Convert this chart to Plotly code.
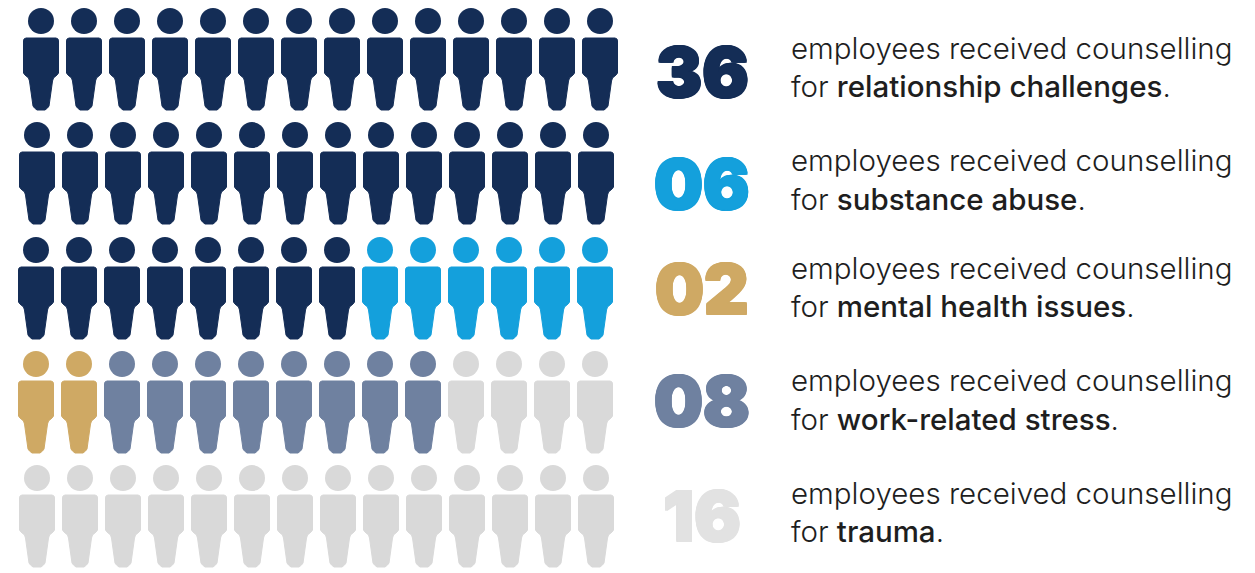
import plotly.graph_objects as go

# Employees per counselling topic
topics = ["relationship challenges", "substance abuse", "mental health issues",
          "work-related stress", "trauma"]
counts = [36, 6, 2, 8, 16]
count_labels = ["36", "06", "02", "08", "16"]
colors = ["#142D56", "#14A0DC", "#CFA964", "#6F81A0", "#D9D9D9"]
number_colors = ["#142D56", "#14A0DC", "#CFA964", "#6F81A0", "#E2E2E2"]
spare_color = "#D9D9D9"   # grid cells beyond the counted employees

# Pictogram grid
columns = 14
row_left = [41, 37, 36, 36, 37]
row_top = [21, 135, 250, 364, 478]
col_step = 43.0

# Text block rows
first_line_y = [48, 160, 268, 380, 493]
second_line_y = [86, 199, 306, 419, 531]
number_y = [72, 184, 289, 401, 516]
number_x = 702
text_x = 789

# Body silhouette, relative to the centre of the head
body_x = [-15, 15, 17, 17.5, 17.5, 16, 12.5, 11.5, 8, 6.5, 4, -4, -6.5, -8, -11.5, -12.5, -16, -17.5, -17.5, -17, -15]
body_y = [17, 17, 18, 20, 52, 54, 57, 60, 85, 87, 89, 89, 87, 85, 60, 57, 54, 52, 20, 18, 17]

# Assign each grid cell to a topic, in reading order
cell_colors = [c for c, n in zip(colors, counts) for _ in range(n)]
n_rows = len(row_left)
cell_colors += [spare_color] * (columns * n_rows - len(cell_colors))

groups = {}
for i, color in enumerate(cell_colors):
    row, col = divmod(i, columns)
    cx = row_left[row] + col * col_step
    cy = row_top[row]
    g = groups.setdefault(color, {"hx": [], "hy": [], "bx": [], "by": []})
    g["hx"].append(cx)
    g["hy"].append(cy)
    g["bx"] += [cx + dx for dx in body_x] + [None]
    g["by"] += [cy + dy for dy in body_y] + [None]

fig = go.Figure()
for color, g in groups.items():
    fig.add_trace(go.Scatter(x=g["bx"], y=g["by"], mode="lines", fill="toself",
                             fillcolor=color, line=dict(color=color, width=1),
                             hoverinfo="skip", showlegend=False))
    fig.add_trace(go.Scatter(x=g["hx"], y=g["hy"], mode="markers",
                             marker=dict(color=color, size=26, line=dict(width=0)),
                             hoverinfo="skip", showlegend=False))


def heavy_shadow(color, r=1.0):
    """Same-colour text shadow that thickens the numerals."""
    offsets = [(r, 0), (-r, 0), (0, r), (0, -r), (r, r), (-r, r), (r, -r), (-r, -r)]
    return ", ".join(f"{x}px {y}px 0 {color}" for x, y in offsets)


TEXT_FONT = dict(family="Inter, sans-serif", size=29.5, weight=300, color="#1E1E1E")
annotations = []
for i, topic in enumerate(topics):
    annotations.append(dict(x=number_x, y=number_y[i], text=count_labels[i], showarrow=False,
                            xanchor="center", yanchor="middle",
                            font=dict(family="Inter, sans-serif", size=69, weight=900, color=number_colors[i],
                                      shadow=heavy_shadow(number_colors[i]))))
    annotations.append(dict(x=text_x, y=first_line_y[i], text="employees received counselling",
                            showarrow=False, xanchor="left", yanchor="middle", font=TEXT_FONT))
    annotations.append(dict(x=text_x, y=second_line_y[i],
                            text=f'for <span style="font-weight:500">{topic}</span>.',
                            showarrow=False, xanchor="left", yanchor="middle", font=TEXT_FONT))

fig.update_layout(
    width=1255, height=573, margin=dict(l=0, r=0, t=0, b=0),
    paper_bgcolor="white", plot_bgcolor="white",
    xaxis=dict(range=[0, 1255], visible=False, fixedrange=True),
    yaxis=dict(range=[573, 0], visible=False, fixedrange=True),
    annotations=annotations,
)
fig.write_html("out.html", config={"displayModeBar": False})
